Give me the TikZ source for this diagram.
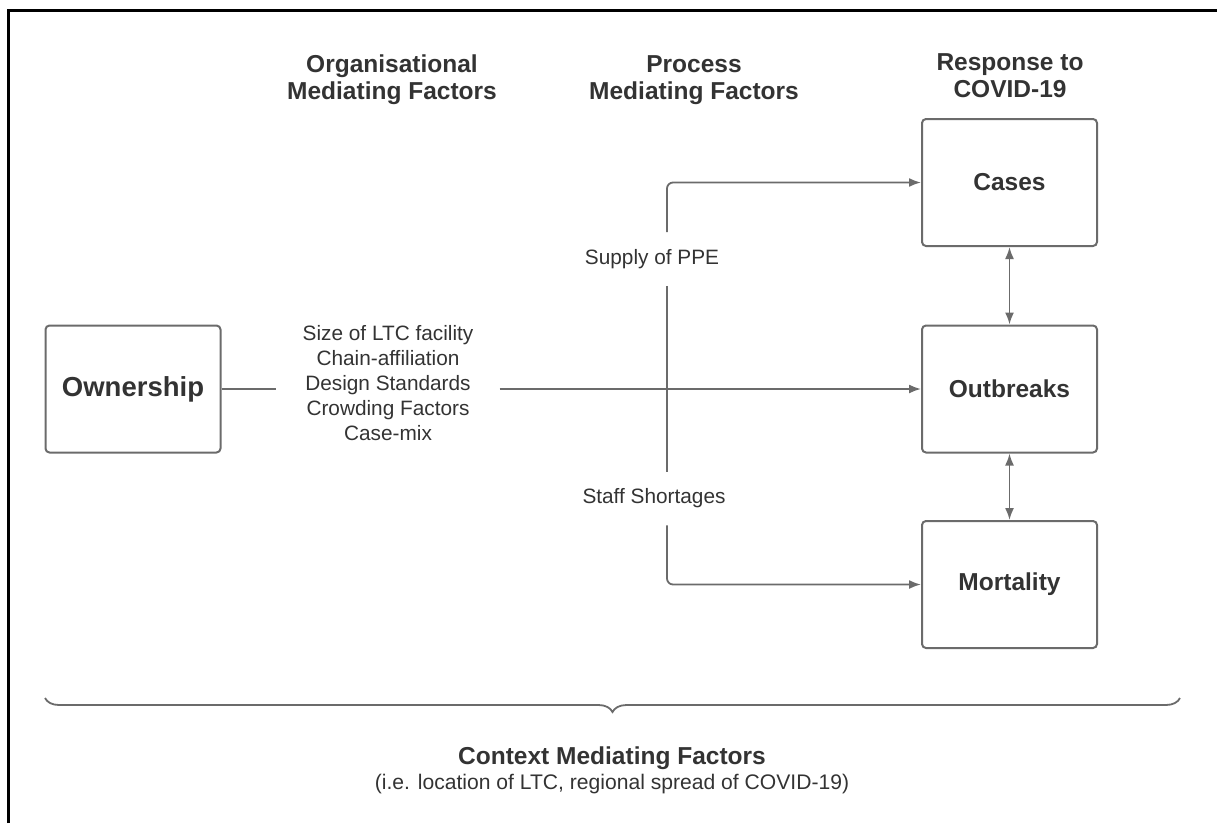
\documentclass[tikz,border=0pt]{standalone}
\usepackage{fontspec}
\setmainfont{Liberation Sans}
\usetikzlibrary{arrows.meta,decorations.pathreplacing}
\definecolor{linegray}{HTML}{6B6B6B}
\definecolor{textgray}{HTML}{333333}
\tikzset{
  box/.style={draw=linegray, line width=2pt, rounded corners=4pt, minimum width=175pt, minimum height=127pt, text=textgray, font=\bfseries\fontsize{24.5}{29}\selectfont},
  head/.style={align=center, text=textgray, font=\bfseries\fontsize{24.5}{27}\selectfont},
  factor/.style={align=center, text=textgray, font=\fontsize{20.8}{25}\selectfont},
  gap/.style={factor, inner ysep=17pt, inner xsep=0pt},
  link/.style={draw=linegray, line width=1.8pt},
  arrow/.style={link, -{Latex[length=12pt,width=9pt]}},
  twoway/.style={link, {Latex[length=12pt,width=9pt]}-{Latex[length=12pt,width=9pt]}},
}
\begin{document}
\begin{tikzpicture}[x=1pt, y=-1pt]
    \useasboundingbox (0,0) rectangle (1217,823);
    \draw[line width=3pt] (8,823) -- (8,10) -- (1217,10);
    % column headings
    \node[head] (orghead) at (392,80) {Organisational\\Mediating Factors};
    \node[head] (prochead) at (694,80) {Process\\Mediating Factors};
    \node[head] (resphead) at (1010,76) {Response to\\COVID-19};
    % boxes
    \node[box, font=\bfseries\fontsize{27.5}{32}\selectfont] (owner) at (133,389) {Ownership};
    \node[box] (cases) at (1009.5,182.5) {Cases};
    \node[box] (outbreaks) at (1009.5,389) {Outbreaks};
    \node[box] (mortality) at (1009.5,584.5) {Mortality};
    % mediating factors
    \node[factor, inner xsep=26pt, inner ysep=2pt] (orgfactors) at (388,383) {Size of LTC facility\\Chain-affiliation\\Design Standards\\Crowding Factors\\Case-mix};
    \node[gap] (supply) at (652,259) {Supply of PPE};
    \node[gap] (staff) at (654,498.5) {Staff Shortages};
    \coordinate (split) at (667,389);
    % connectors
    \draw[link] (owner.east) -- (owner.east -| orgfactors.west);
    \draw[arrow] (owner.east -| orgfactors.east) -- (outbreaks.west);
    \draw[arrow, rounded corners=6pt] (split |- supply.north) |- (cases.west);
    \draw[link] (split |- supply.south) -- (split |- staff.north);
    \draw[arrow, rounded corners=6pt] (split |- staff.south) |- (mortality.west);
    \draw[twoway] (cases) -- (outbreaks);
    \draw[twoway] (outbreaks) -- (mortality);
    % context
    \draw[link, decorate, decoration={brace, amplitude=14pt, mirror}] (45,698) -- (1180,698);
    \node[head] (context) at (612,758) {Context Mediating Factors};
    \node[factor, font=\fontsize{21.1}{25}\selectfont] (examples) at (612,784) {(i.e. location of LTC, regional spread of COVID-19)};
\end{tikzpicture}
\end{document}
